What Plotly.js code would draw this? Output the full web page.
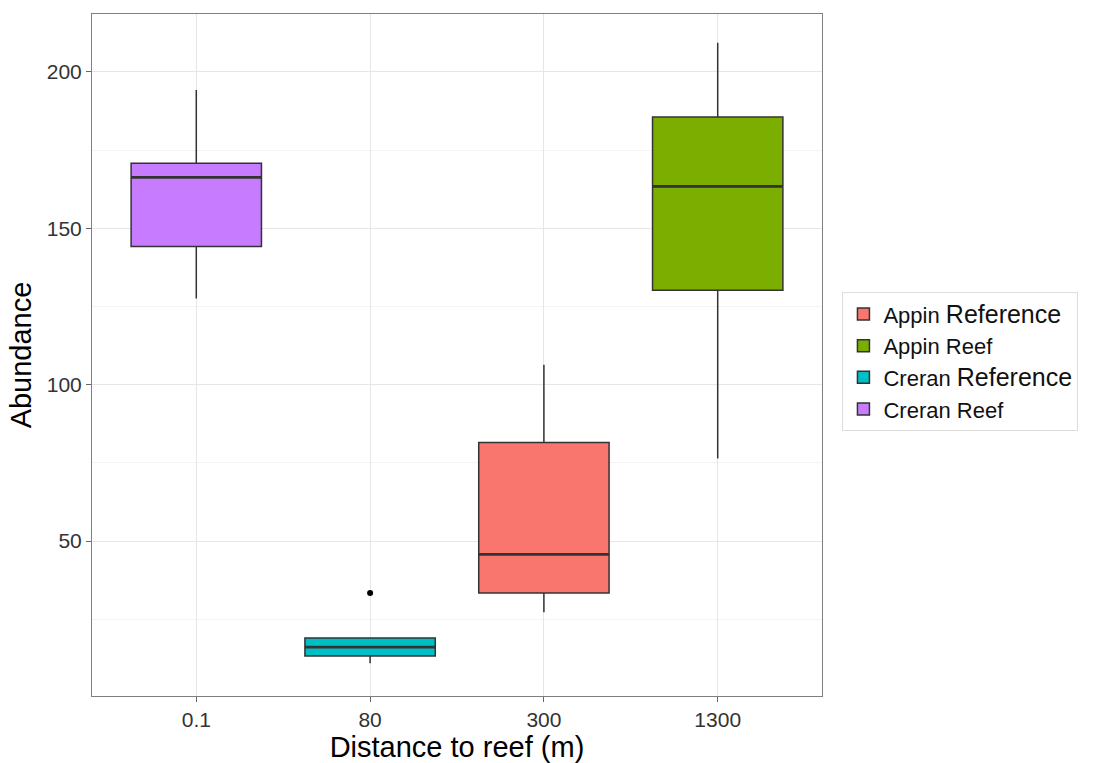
<!DOCTYPE html>
<html>
<head>
<meta charset="utf-8">
<script src="https://cdn.plot.ly/plotly-3.0.1.min.js"></script>
<style>html,body{margin:0;padding:0;background:#fff;}#chart{width:1096px;height:763px;}</style>
</head>
<body>
<div id="chart"></div>
<script>
const categories = ['0.1', '80', '300', '1300'];
const seriesNames = ['Appin Reference', 'Appin Reef', 'Creran Reference', 'Creran Reef'];
const seriesX = ['300', '1300', '80', '0.1'];
const seriesColors = ['#F8766D', '#7CAE00', '#00BFC4', '#C77CFF'];
const lowerFence = [27.3, 76.4, 11.0, 127.6];
const q1 = [33.4, 130.2, 13.3, 144.2];
const median = [45.8, 163.4, 16.1, 166.3];
const q3 = [81.5, 185.6, 19.0, 170.8];
const upperFence = [106.4, 209.3, 19.0, 194.2];
const outlierX = ['80'];
const outlierY = [33.4];
const yTicks = [50, 100, 150, 200];

const BOX_WIDTH = 0.75;

function legendLabel(name) {
  const parts = name.split(' ');
  if (parts[1] === 'Reference') {
    return parts[0] + ' <span style="font-size:25px">' + parts[1] + '</span>';
  }
  return name;
}

const traces = seriesNames.map((name, i) => ({
  type: 'box',
  name: legendLabel(name),
  x: [seriesX[i]],
  q1: [q1[i]],
  median: [median[i]],
  q3: [q3[i]],
  lowerfence: [lowerFence[i]],
  upperfence: [upperFence[i]],
  width: BOX_WIDTH,
  fillcolor: seriesColors[i],
  line: {color: '#333333', width: 1.5},
  whiskerwidth: 0,
  hoverinfo: 'skip'
}));

traces.push({
  type: 'scatter',
  mode: 'markers',
  x: outlierX,
  y: outlierY,
  marker: {color: '#000000', size: 6},
  showlegend: false,
  hoverinfo: 'skip'
});

// thicker median lines, as in ggplot
const shapes = seriesNames.map((name, i) => {
  const idx = categories.indexOf(seriesX[i]);
  return {
    type: 'line', xref: 'x', yref: 'y',
    x0: idx - BOX_WIDTH / 2, x1: idx + BOX_WIDTH / 2,
    y0: median[i], y1: median[i],
    line: {color: '#333333', width: 2.8}
  };
});

const layout = {
  width: 1096,
  height: 763,
  margin: {l: 92, r: 274, t: 14, b: 67},
  paper_bgcolor: '#ffffff',
  plot_bgcolor: '#ffffff',
  font: {family: 'Liberation Sans, Arial, sans-serif', color: '#000'},
  boxmode: 'overlay',
  showlegend: true,
  shapes: shapes,
  legend: {
    x: 1.028, xanchor: 'left',
    y: 0.49, yanchor: 'middle',
    bordercolor: '#dddddd', borderwidth: 1,
    font: {size: 22, color: '#111'},
    tracegroupgap: 0,
    itemwidth: 30
  },
  xaxis: {
    type: 'category',
    categoryorder: 'array',
    categoryarray: categories,
    range: [-0.6, 3.6],
    showgrid: true,
    gridcolor: '#e6e6e6',
    gridwidth: 1,
    ticks: 'outside',
    ticklen: 5,
    tickcolor: '#666',
    tickfont: {size: 21, color: '#333'},
    showline: true,
    mirror: true,
    linecolor: '#7f7f7f',
    linewidth: 1,
    zeroline: false,
    title: {text: 'Distance to reef (m)', font: {size: 29, color: '#000'}, standoff: 2}
  },
  yaxis: {
    range: [0.5, 218.5],
    tickvals: yTicks,
    ticktext: yTicks.map(String),
    showgrid: true,
    gridcolor: '#e6e6e6',
    gridwidth: 1,
    minor: {tickvals: [25, 75, 125, 175], showgrid: true, gridcolor: '#f3f3f3', gridwidth: 1, ticks: ''},
    ticks: 'outside',
    ticklen: 5,
    tickcolor: '#666',
    tickfont: {size: 21, color: '#333'},
    showline: true,
    mirror: true,
    linecolor: '#7f7f7f',
    linewidth: 1,
    zeroline: false,
    title: {text: 'Abundance', font: {size: 29, color: '#000'}, standoff: 6}
  }
};

Plotly.newPlot('chart', traces, layout, {staticPlot: true, displayModeBar: false});
</script>
</body>
</html>
